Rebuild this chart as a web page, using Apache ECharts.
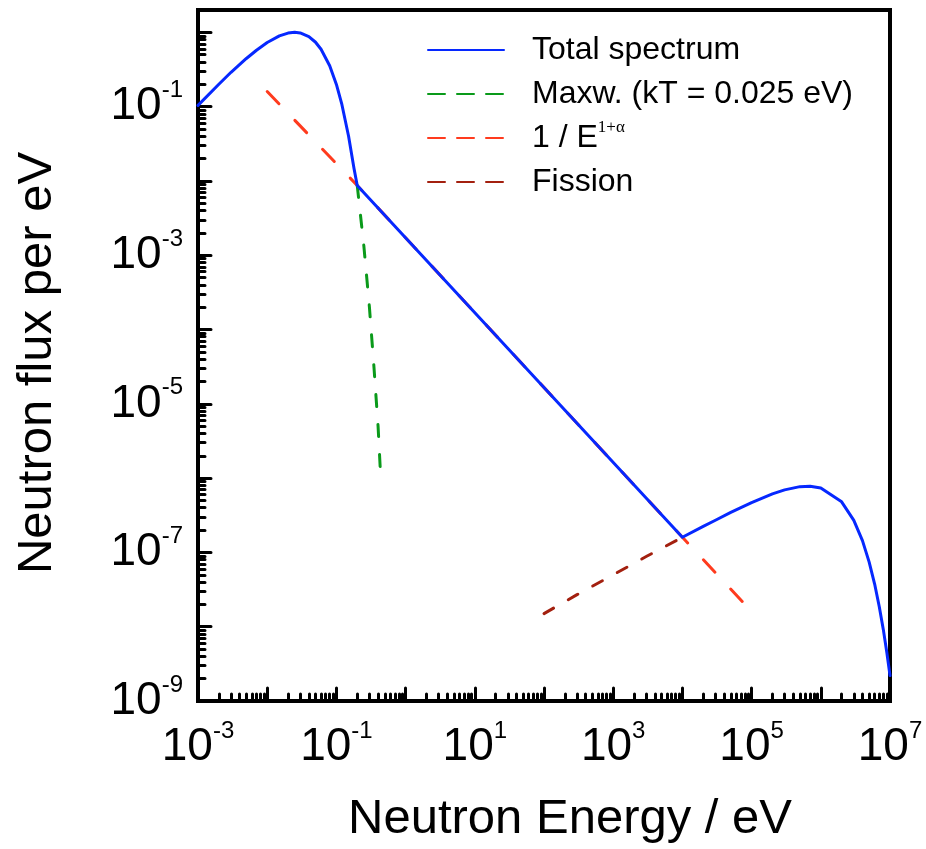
<!DOCTYPE html>
<html>
<head>
<meta charset="utf-8">
<script src="https://cdn.jsdelivr.net/npm/echarts@6/dist/echarts.min.js"></script>
<style>
  html, body { margin: 0; padding: 0; background: #fff; }
  #chart { width: 926px; height: 849px; }
</style>
</head>
<body>
<div id="chart"></div>
<script>
// energies in eV, flux per eV
const totalE = [0.001, 0.002, 0.003, 0.005, 0.007, 0.01, 0.015, 0.02, 0.025, 0.03, 0.04, 0.05, 0.06, 0.08, 0.1, 0.12, 0.15, 0.18, 0.2,
  1e4, 2e4, 3e4, 5e4, 7e4, 1e5, 2e5, 3e5, 5e5, 7e5, 1e6, 2e6, 3e6, 4e6, 5e6, 6e6, 7e6, 8e6, 9e6, 1e7];
const totalFlux = [0.104, 0.2, 0.29, 0.445, 0.575, 0.73, 0.895, 0.977, 1.0, 0.982, 0.878, 0.736, 0.592, 0.355, 0.199, 0.107, 0.04, 0.0146, 0.0087,
  1.6e-7, 2.24e-7, 2.71e-7, 3.46e-7, 4.01e-7, 4.68e-7, 6.13e-7, 6.95e-7, 7.68e-7, 7.78e-7, 7.37e-7, 4.8e-7, 2.7e-7, 1.44e-7, 7.4e-8, 3.75e-8, 1.86e-8, 9.2e-9, 4.5e-9, 2.2e-9];

const maxwE = [0.2, 0.25, 0.3, 0.35, 0.4, 0.44];
const maxwFlux = [0.0087, 1.3e-3, 2.0e-4, 3.0e-5, 5.0e-6, 9.0e-7];

const invE = [0.01, 0.2, 1e4, 1e5];
const invFlux = [0.16, 0.0087, 1.6e-7, 1.6e-8];

const fisE = [100, 300, 1000, 3000, 1e4];
const fisFlux = [1.5e-8, 2.7e-8, 5.0e-8, 8.8e-8, 1.6e-7];

const seriesNames = ['Total spectrum', 'Maxw. (kT = 0.025 eV)', '1 / E^(1+α)', 'Fission'];

// axis decades
const xDecades = [1e-3, 1e-2, 1e-1, 1, 10, 100, 1e3, 1e4, 1e5, 1e6, 1e7];
const xLabelVals = [1e-3, 1e-1, 10, 1e3, 1e5, 1e7];
const yDecades = [1e-9, 1e-8, 1e-7, 1e-6, 1e-5, 1e-4, 1e-3, 1e-2, 1e-1, 1];
const yLabelVals = [1e-9, 1e-7, 1e-5, 1e-3, 1e-1];

const FONT = "'Liberation Sans', Arial, sans-serif";

function minorOf(decades) {
  const out = [];
  decades.slice(0, -1).forEach(function (d) {
    for (let m = 2; m <= 9; m++) out.push(d * m);
  });
  return out;
}
function pairs(xs, ys) {
  return xs.map(function (x, i) { return [x, ys[i]]; });
}
function powLabel(v) {
  return '{b|10}{s|' + Math.round(Math.log10(v)) + '}';
}

const labelRich = {
  b: { fontSize: 46, lineHeight: 56, fontFamily: FONT, color: '#000' },
  s: { fontSize: 24, lineHeight: 24, fontFamily: FONT, color: '#000', verticalAlign: 'top' }
};

function mainAxis(decades, extra) {
  return Object.assign({
    type: 'log',
    logBase: 10,
    axisLine: { show: true, onZero: false, lineStyle: { color: '#000', width: 4 } },
    axisTick: { show: true, inside: true, length: 13, customValues: decades,
      lineStyle: { color: '#000', width: 3, cap: 'round' } },
    splitLine: { show: false },
    minorTick: { show: false },
    nameLocation: 'middle'
  }, extra);
}
function minorAxis(decades, extra) {
  return Object.assign({
    type: 'log',
    logBase: 10,
    axisLine: { show: false, onZero: false },
    axisTick: { show: true, inside: true, length: 7, customValues: minorOf(decades),
      lineStyle: { color: '#000', width: 3, cap: 'round' } },
    axisLabel: { show: false },
    splitLine: { show: false }
  }, extra);
}

const chart = echarts.init(document.getElementById('chart'));
const option = {
  animation: false,
  backgroundColor: '#fff',
  grid: {
    left: 198, right: 36, top: 10, bottom: 147,
    show: true, borderColor: '#000', borderWidth: 4, backgroundColor: 'transparent'
  },
  graphic: [
    {
      type: 'text',
      x: 37, y: 363,
      rotation: Math.PI / 2,
      style: {
        text: 'Neutron flux per eV',
        font: '49px ' + FONT,
        fill: '#000',
        align: 'center',
        verticalAlign: 'middle'
      }
    }
  ],
  xAxis: [
    mainAxis(xDecades, {
      min: 1e-3, max: 1e7, position: 'bottom',
      name: 'Neutron Energy / eV', nameGap: 94,
      nameTextStyle: { fontSize: 49, fontFamily: FONT, color: '#000', padding: [0, 0, 0, 52] },
      axisLabel: { show: true, customValues: xLabelVals, formatter: powLabel, rich: labelRich, margin: 18 }
    }),
    minorAxis(xDecades, { min: 1e-3, max: 1e7, position: 'bottom' })
  ],
  yAxis: [
    mainAxis(yDecades, {
      min: 1e-9, max: 2, position: 'left',
      axisLabel: { show: true, customValues: yLabelVals, formatter: powLabel, rich: labelRich, margin: 15 }
    }),
    minorAxis(yDecades, { min: 1e-9, max: 2, position: 'left' })
  ],
  legend: {
    orient: 'vertical',
    left: 422,
    top: 26,
    itemWidth: 76,
    itemHeight: 14,
    itemGap: 6,
    selectedMode: false,
    itemStyle: { opacity: 0 },
    textStyle: {
      fontSize: 32, fontFamily: FONT, color: '#000', lineHeight: 38,
      padding: [0, 0, 0, 23],
      rich: {
        sup: { fontSize: 17, lineHeight: 17, fontFamily: "'Liberation Serif', 'Times New Roman', serif", color: '#000', verticalAlign: 'top' }
      }
    },
    formatter: function (name) {
      return name === '1 / E^(1+α)' ? '1 / E{sup|1+α}' : name;
    },
    data: [
      { name: seriesNames[0] },
      { name: seriesNames[1], lineStyle: { type: [17, 12] } },
      { name: seriesNames[2], lineStyle: { type: [17, 12] } },
      { name: seriesNames[3], lineStyle: { type: [17, 12] } }
    ]
  },
  series: [
    {
      name: seriesNames[0], type: 'line', data: pairs(totalE, totalFlux),
      showSymbol: false, symbol: 'none', z: 5,
      lineStyle: { color: '#0628ff', width: 3, cap: 'round', join: 'round' },
      itemStyle: { color: '#0628ff' }
    },
    {
      name: seriesNames[1], type: 'line', data: pairs(maxwE, maxwFlux),
      showSymbol: false, symbol: 'none', z: 3,
      lineStyle: { color: '#0a9a1a', width: 3, type: [12, 18], cap: 'round' },
      itemStyle: { color: '#0a9a1a' }
    },
    {
      name: seriesNames[2], type: 'line', data: pairs(invE, invFlux),
      showSymbol: false, symbol: 'none', z: 2,
      lineStyle: { color: '#ff3b1e', width: 3, type: [17, 23], cap: 'round' },
      itemStyle: { color: '#ff3b1e' }
    },
    {
      name: seriesNames[3], type: 'line', data: pairs(fisE, fisFlux),
      showSymbol: false, symbol: 'none', z: 3,
      lineStyle: { color: '#a3200f', width: 3, type: [11, 17], cap: 'round' },
      itemStyle: { color: '#a3200f' }
    }
  ]
};
option && chart.setOption(option);
</script>
</body>
</html>
